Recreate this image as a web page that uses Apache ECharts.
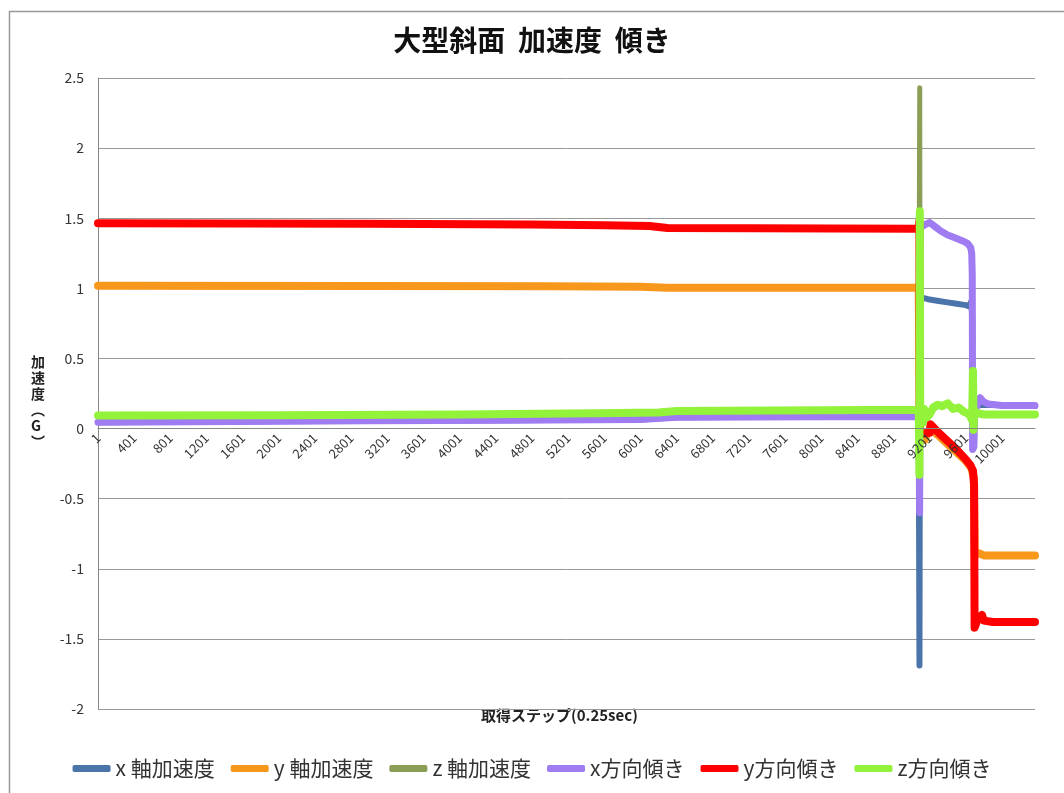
<!DOCTYPE html>
<html>
<head>
<meta charset="utf-8">
<script src="https://cdn.jsdelivr.net/npm/echarts@6/dist/echarts.min.js"></script>
<style>
html,body{margin:0;padding:0;background:#fff;}
#c{width:1064px;height:793px;}
</style>
</head>
<body>
<div id="c"></div>
<script>
// ---- data: [acquisition step, value in G] ----
const seriesNames = ['x 軸加速度', 'y 軸加速度', 'z 軸加速度', 'x方向傾き', 'y方向傾き', 'z方向傾き'];
const seriesColors = ['#4A74AA', '#F7981D', '#8A9E55', '#A07CF2', '#FF0000', '#93F23A'];
const yTicks = { min: -2, max: 2.5, step: 0.5 };
const xTicks = { first: 1, last: 10366, step: 400 };

const xAccel = [
  [1, 0.045], [1500, 0.05], [3000, 0.055], [4500, 0.06], [6000, 0.065], [6400, 0.08], [8000, 0.085], [9080, 0.085],
  [9088, -1.69], [9094, 0.93], [9140, 0.93], [9200, 0.92], [9300, 0.91], [9400, 0.9], [9500, 0.89],
  [9600, 0.88], [9640, 0.87], [9655, 0.9], [9665, 0.86], [9672, 0.8], [9675, 0.16], [9800, 0.17], [10366, 0.16]
];
const yAccel = [
  [1, 1.018], [3000, 1.017], [5000, 1.015], [6000, 1.012], [6300, 1.005], [9080, 1.005],
  [9090, 0.0], [9110, -0.02], [9150, -0.08], [9170, -0.03], [9220, -0.01], [9300, -0.05], [9400, -0.11],
  [9500, -0.17], [9600, -0.23], [9660, -0.28], [9690, -0.35], [9700, -0.9], [9750, -0.89], [9800, -0.905], [10366, -0.905]
];
const zAccel = [
  [1, 0.093], [2000, 0.095], [4000, 0.1], [5500, 0.11], [6200, 0.115], [6400, 0.125], [8000, 0.13], [9080, 0.135],
  [9088, 0.13], [9091, 2.43], [9094, 0.1], [9105, 0.13], [9140, 0.13], [9200, 0.11], [9290, 0.16], [9400, 0.17],
  [9520, 0.14], [9640, 0.1], [9700, 0.11], [9800, 0.1], [10366, 0.1]
];
const xTilt = [
  [1, 0.045], [1500, 0.05], [3000, 0.055], [4500, 0.06], [6000, 0.065], [6400, 0.08], [8000, 0.085], [9080, 0.085],
  [9086, 0.06], [9090, -0.6], [9095, 1.43], [9140, 1.45], [9200, 1.47], [9260, 1.44], [9320, 1.41], [9400, 1.38],
  [9480, 1.36], [9560, 1.34], [9620, 1.32], [9655, 1.29], [9666, 1.25], [9672, 1.1], [9676, -0.15], [9690, -0.13],
  [9700, 0.12], [9760, 0.22], [9800, 0.19], [9850, 0.175], [10000, 0.165], [10366, 0.165]
];
const yTilt = [
  [1, 1.465], [3000, 1.46], [4800, 1.455], [5600, 1.45], [6100, 1.445], [6300, 1.43], [9080, 1.425],
  [9087, 1.48], [9092, 0.0], [9100, -0.03], [9140, -0.035], [9200, -0.03], [9210, 0.03], [9225, 0.02],
  [9300, -0.03], [9400, -0.09], [9500, -0.15], [9600, -0.22], [9650, -0.26], [9680, -0.3], [9692, -0.4],
  [9698, -1.42], [9710, -1.4], [9730, -1.36], [9780, -1.33], [9800, -1.37], [9900, -1.38], [10366, -1.38]
];
const zTilt = [
  [1, 0.093], [2000, 0.095], [4000, 0.1], [5500, 0.11], [6200, 0.115], [6400, 0.125], [8000, 0.13], [9080, 0.135],
  [9086, 0.14], [9088, -0.33], [9092, 1.55], [9096, 0.05], [9105, 0.13], [9125, 0.04], [9140, 0.14], [9170, 0.08],
  [9200, 0.1], [9240, 0.15], [9290, 0.17], [9340, 0.16], [9400, 0.18], [9460, 0.14], [9520, 0.15], [9580, 0.12],
  [9640, 0.1], [9670, 0.06], [9680, 0.41], [9686, -0.01], [9694, 0.13], [9720, 0.11], [9800, 0.1], [10000, 0.1], [10366, 0.1]
];
const allData = [xAccel, yAccel, zAccel, xTilt, yTilt, zTilt];
const lineWidths = [6, 8, 5, 7, 8, 8];

const chart = echarts.init(document.getElementById('c'), null, { renderer: 'canvas' });
const font = '"Noto Sans CJK JP", "Noto Sans", sans-serif';

const gridTop = 78, gridBottom = 84, chartH = 793;
const plotH = chartH - gridTop - gridBottom;
// shift the x axis so it sits on value 0 of the y axis
const zeroOffset = -plotH * (0 - yTicks.min) / (yTicks.max - yTicks.min);

const option = {
  backgroundColor: '#fff',
  animation: false,
  title: {
    text: '大型斜面  加速度  傾き',
    left: 'center',
    top: 21,
    textStyle: { fontFamily: font, fontSize: 28, fontWeight: 'bold', color: '#111' }
  },
  grid: { left: 98, right: 29, top: gridTop, bottom: gridBottom, outerBoundsMode: 'none', containLabel: false },
  legend: {
    data: seriesNames,
    bottom: 9,
    left: 'center',
    icon: 'roundRect',
    itemWidth: 38,
    itemHeight: 7,
    itemGap: 16,
    textStyle: { fontFamily: font, fontSize: 21, color: '#333' }
  },
  xAxis: {
    type: 'value',
    z: 10,
    min: xTicks.first - 1,
    max: xTicks.last - 1,
    interval: xTicks.step,
    position: 'bottom',
    offset: zeroOffset,
    axisLine: { onZero: false, lineStyle: { color: '#888', width: 1 } },
    axisTick: { show: false },
    splitLine: { show: false },
    axisLabel: {
      rotate: 45,
      margin: 7,
      fontFamily: font,
      fontSize: 13,
      color: '#333',
      showMaxLabel: false,
      formatter: v => String(v + 1)
    }
  },
  yAxis: {
    type: 'value',
    min: yTicks.min,
    max: yTicks.max,
    interval: yTicks.step,
    axisLine: { show: true, onZero: false, lineStyle: { color: '#888', width: 1 } },
    axisTick: { show: false },
    splitLine: { show: true, lineStyle: { color: '#999', width: 1 } },
    axisLabel: { margin: 14, fontFamily: font, fontSize: 14, color: '#333' }
  },
  graphic: [
    {
      type: 'rect', left: 7, top: 9, silent: true,
      shape: { width: 1200, height: 900 },
      style: { fill: 'none', stroke: '#999', lineWidth: 1.5 }
    },
    {
      type: 'text', left: 31, top: 354, silent: true,
      style: {
        text: '加\n速\n度\n︵\nG\n︶',
        fontFamily: font, fontSize: 14, fontWeight: 'bold', fill: '#222',
        lineHeight: 16, align: 'center'
      }
    },
    {
      type: 'text', left: 481, top: 708, silent: true,
      style: {
        text: '取得ステップ(0.25sec)',
        fontFamily: font, fontSize: 15, fontWeight: 'bold', fill: '#222'
      }
    }
  ],
  series: seriesNames.map((name, i) => ({
    name: name,
    type: 'line',
    symbol: 'none',
    silent: true,
    z: 2,
    color: seriesColors[i],
    lineStyle: { width: lineWidths[i], color: seriesColors[i], cap: 'round', join: 'round' },
    data: allData[i].map(p => [p[0] - 1, p[1]])
  }))
};
chart.setOption(option);
</script>
</body>
</html>
